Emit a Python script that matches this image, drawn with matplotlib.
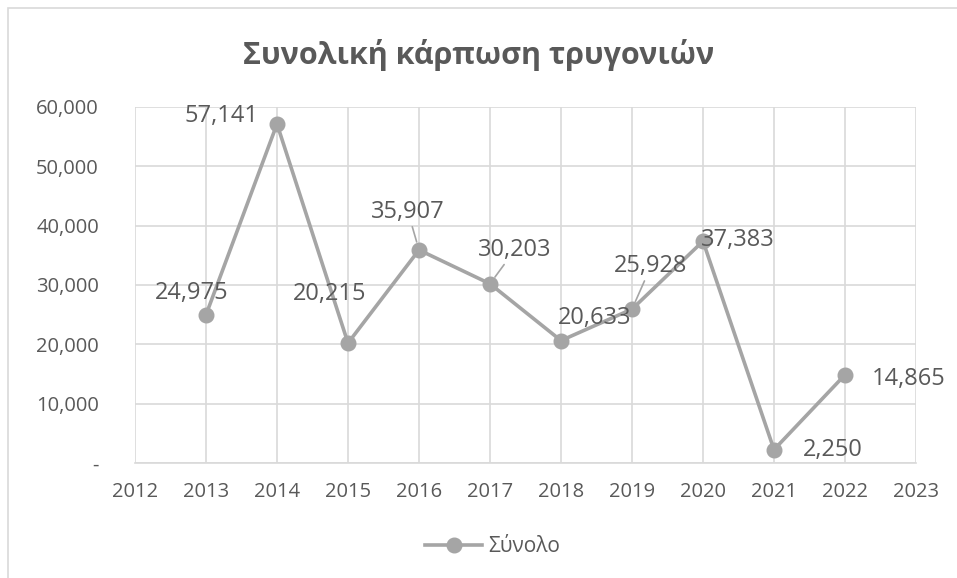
import matplotlib.pyplot as plt
from matplotlib.patches import Rectangle

# data
years = [2013, 2014, 2015, 2016, 2017, 2018, 2019, 2020, 2021, 2022]
totals = [24975, 57141, 20215, 35907, 30203, 20633, 25928, 37383, 2250, 14865]
# label offsets in pixels (dx, dy) from the point, and whether a leader line is drawn
label_offsets = [(-14, 22), (-56, 8), (-18, 49), (-11, 38), (25, 34), (34, 23), (19, 43), (35, 1), (59, 0), (64, -4)]
leaders = [False, False, False, True, True, False, True, False, False, False]

plt.rcParams['font.family'] = ['Open Sans', 'DejaVu Sans']
grey = '#A5A5A5'
text_grey = '#595959'

fig = plt.figure(figsize=(9.57, 5.78), dpi=100)
fig.patches.append(Rectangle((8 / 957, -0.01), 1.0, 1 - 8 / 578 + 0.01, transform=fig.transFigure,
                             fill=False, edgecolor='#D9D9D9', linewidth=1.2))

ax = fig.add_axes([135 / 957, 1 - 463 / 578, (916 - 135) / 957, (463 - 107) / 578])
ax.plot(years, totals, color=grey, linewidth=2.6, marker='o', markersize=10.5,
        markerfacecolor=grey, markeredgecolor=grey, label='Σύνολο', zorder=3)

for x, y, (dx, dy), lead in zip(years, totals, label_offsets, leaders):
    txt = f'{y:,}'
    if lead:
        ax.annotate(txt, (x, y), xytext=(dx, dy), textcoords='offset pixels',
                    ha='center', va='center', fontsize=17, color=text_grey,
                    arrowprops=dict(arrowstyle='-', color=grey, lw=1.2, shrinkA=0, shrinkB=6))
    else:
        ax.annotate(txt, (x, y), xytext=(dx, dy), textcoords='offset pixels',
                    ha='center', va='center', fontsize=17, color=text_grey)

ax.set_xlim(2012, 2023)
ax.set_ylim(0, 60000)
ax.set_xticks(range(2012, 2024))
ax.set_yticks(range(0, 60001, 10000))
ax.set_yticklabels(['-'] + [f'{v:,}' for v in range(10000, 60001, 10000)])
ax.grid(True, color='#D9D9D9', linewidth=1.2)
ax.set_axisbelow(True)
for side in ['top', 'right', 'left']:
    ax.spines[side].set_visible(False)
ax.spines['bottom'].set_color('#D9D9D9')
ax.spines['bottom'].set_linewidth(1.2)
ax.tick_params(length=0, colors=text_grey, labelsize=14.5)
ax.tick_params(axis='y', pad=26)
ax.tick_params(axis='x', pad=14)

fig.text(0.5, 1 - 55 / 578, 'Συνολική κάρπωση τρυγονιών', ha='center', va='center',
         fontsize=22, fontweight='bold', color=text_grey)

fig.legend(loc='center', bbox_to_anchor=(0.515, 1 - 547 / 578), frameon=False,
           fontsize=15, labelcolor=text_grey, handlelength=2.75, handletextpad=0.3)

fig.savefig('out.png', dpi=100)
